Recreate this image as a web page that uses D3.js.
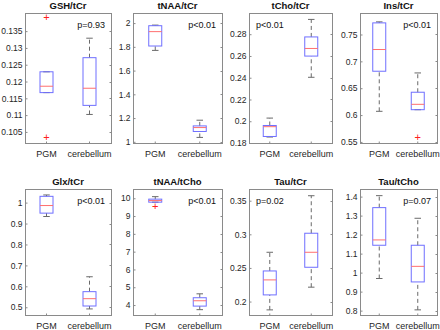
<!DOCTYPE html>
<html>
<head>
<meta charset="utf-8">
<script src="https://cdn.jsdelivr.net/npm/d3@7"></script>
<style>
  body { margin: 0; background: #fff; }
  svg { display: block; font-family: "Liberation Sans", Arial, sans-serif; }
</style>
</head>
<body>
<svg id="chart" width="440" height="330"></svg>
<script>
// Chart data

const titles = ["GSH/tCr", "tNAA/tCr", "tCho/tCr", "Ins/tCr", "Glx/tCr", "tNAA/tCho", "Tau/tCr", "Tau/tCho"];
const groups = ["PGM", "cerebellum"];

// [lower whisker, q1, median, q3, upper whisker]
const pgmStats = [
    [0.1167, 0.1167, 0.1186, 0.1229, 0.1229],
    [1.77, 1.807, 1.928, 1.978, 1.983],
    [0.1855, 0.186, 0.195, 0.1961, 0.2029],
    [0.607, 0.6816, 0.722, 0.7716, 0.7735],
    [0.9336, 0.9497, 0.986, 1.030, 1.0365],
    [9.78, 9.78, 9.87, 9.95, 10.09],
    [0.1876, 0.2099, 0.2322, 0.2455, 0.2733],
    [0.969, 1.144, 1.172, 1.342, 1.405]
];
const cereStats = [
    [0.1102, 0.1129, 0.118, 0.1271, 0.1329],
    [1.037, 1.087, 1.12, 1.134, 1.182],
    [0.2404, 0.2599, 0.2669, 0.2775, 0.2936],
    [0.610, 0.610, 0.620, 0.6425, 0.6784],
    [0.492, 0.506, 0.541, 0.5745, 0.6457],
    [3.74, 3.94, 4.24, 4.41, 4.63],
    [0.2214, 0.251, 0.2733, 0.3016, 0.3574],
    [0.804, 0.951, 1.033, 1.144, 1.286]
];
const pgmOutliers = [[0.139, 0.1033], [], [], [], [], [9.55], [], []];
const cereOutliers = [[], [], [], [0.558], [], [], [], []];

const pLabels = ["p=0.93", "p<0.01", "p<0.01", "p<0.01", "p<0.01", "p<0.01", "p=0.02", "p=0.07"];
const pSide = ["right", "right", "left", "right", "right", "right", "left", "right"];

const yDomains = [
    [0.1017, 0.1404], [0.99, 2.085], [0.18, 0.2995], [0.548, 0.790],
    [0.463, 1.065], [3.44, 10.52], [0.180, 0.3674], [0.777, 1.44]
];
const yTicks = [
    [0.105, 0.11, 0.115, 0.12, 0.125, 0.13, 0.135],
    [1, 1.2, 1.4, 1.6, 1.8, 2],
    [0.18, 0.2, 0.22, 0.24, 0.26, 0.28],
    [0.55, 0.6, 0.65, 0.7, 0.75],
    [0.5, 0.6, 0.7, 0.8, 0.9, 1],
    [4, 5, 6, 7, 8, 9, 10],
    [0.2, 0.25, 0.3, 0.35],
    [0.8, 0.9, 1, 1.1, 1.2, 1.3, 1.4]
];

// Layout

const lefts = [25, 133, 249, 360];
const rights = [111, 222, 332, 437];
const rowTop = [13, 189];
const rowBottom = [143, 315];

const frameColor = "#8a8a8a";
const boxColor = "#6f6fff";
const medColor = "#ff6f6f";
const whiskColor = "#6a6a6a";

const svg = d3.select("#chart");

titles.forEach((title, i) => {
    const row = Math.floor(i / 4), col = i % 4;
    const x0 = lefts[col], x1 = rights[col];
    const y0 = rowTop[row], y1 = rowBottom[row];

    const x = d3.scaleBand().domain(groups).range([x0, x1]).paddingOuter(0).paddingInner(0);
    const y = d3.scaleLinear().domain(yDomains[i]).range([y1, y0]);
    const g = svg.append("g");

    // frame
    g.append("rect")
        .attr("x", x0 + 0.5).attr("y", y0 + 0.5)
        .attr("width", x1 - x0).attr("height", y1 - y0)
        .attr("fill", "none").attr("stroke", frameColor).attr("stroke-width", 1);

    // y axis, ticks pointing inward
    const yAxis = g.append("g")
        .attr("transform", `translate(${x0 + 0.5},0)`)
        .call(d3.axisLeft(y).tickValues(yTicks[i]).tickSize(-2).tickPadding(3).tickFormat(d3.format("~g")));
    yAxis.select(".domain").remove();
    yAxis.selectAll("line").attr("stroke", frameColor);
    yAxis.selectAll("text").attr("font-size", 8.5).attr("fill", "#262626");

    // mirrored right ticks
    g.selectAll("line.rtick").data(yTicks[i]).join("line")
        .attr("class", "rtick")
        .attr("x1", x1 + 0.5).attr("x2", x1 - 1.5)
        .attr("y1", d => Math.round(y(d)) + 0.5).attr("y2", d => Math.round(y(d)) + 0.5)
        .attr("stroke", frameColor);

    // x axis
    const xAxis = g.append("g")
        .attr("transform", `translate(0,${y1 + 0.5})`)
        .call(d3.axisBottom(x).tickSize(-2).tickPadding(7));
    xAxis.select(".domain").remove();
    xAxis.selectAll("line").attr("stroke", frameColor);
    xAxis.selectAll("text").attr("font-size", 9).attr("fill", "#262626");

    // title
    g.append("text")
        .attr("x", (x0 + x1) / 2).attr("y", y0 - 4)
        .attr("text-anchor", "middle")
        .attr("font-size", 9.5).attr("font-weight", "bold").attr("fill", "#111")
        .text(title);

    // boxes
    const boxW = 13;
    const sets = [
        { name: groups[0], s: pgmStats[i], out: pgmOutliers[i] },
        { name: groups[1], s: cereStats[i], out: cereOutliers[i] }
    ];
    sets.forEach(set => {
        const cx = x(set.name) + x.bandwidth() / 2;
        const [lo, q1, med, q3, hi] = set.s;

        // whiskers
        [[q3, hi], [lo, q1]].forEach(([a, b]) => {
            if (Math.abs(y(a) - y(b)) > 0.5) {
                g.append("line")
                    .attr("x1", cx).attr("x2", cx)
                    .attr("y1", y(a)).attr("y2", y(b))
                    .attr("stroke", whiskColor).attr("stroke-width", 1)
                    .attr("stroke-dasharray", "4,3");
            }
        });
        // caps
        [lo, hi].forEach(v => {
            g.append("line")
                .attr("x1", cx - boxW / 4).attr("x2", cx + boxW / 4)
                .attr("y1", y(v)).attr("y2", y(v))
                .attr("stroke", whiskColor).attr("stroke-width", 1);
        });
        // box
        g.append("rect")
            .attr("x", cx - boxW / 2).attr("y", y(q3))
            .attr("width", boxW).attr("height", y(q1) - y(q3))
            .attr("fill", "none").attr("stroke", boxColor).attr("stroke-width", 1);
        // median
        g.append("line")
            .attr("x1", cx - boxW / 2).attr("x2", cx + boxW / 2)
            .attr("y1", y(med)).attr("y2", y(med))
            .attr("stroke", medColor).attr("stroke-width", 1);
        // outliers
        set.out.forEach(v => {
            g.append("text")
                .attr("x", cx).attr("y", y(v) + 3.5)
                .attr("text-anchor", "middle")
                .attr("font-size", 11).attr("fill", "#ff2020")
                .text("+");
        });
    });

    // p label
    const left = pSide[i] === "left";
    g.append("text")
        .attr("x", left ? x0 + 7 : x1 - 6)
        .attr("y", y0 + 15)
        .attr("text-anchor", left ? "start" : "end")
        .attr("font-size", 9).attr("fill", "#111")
        .text(pLabels[i]);
});
</script>
</body>
</html>
